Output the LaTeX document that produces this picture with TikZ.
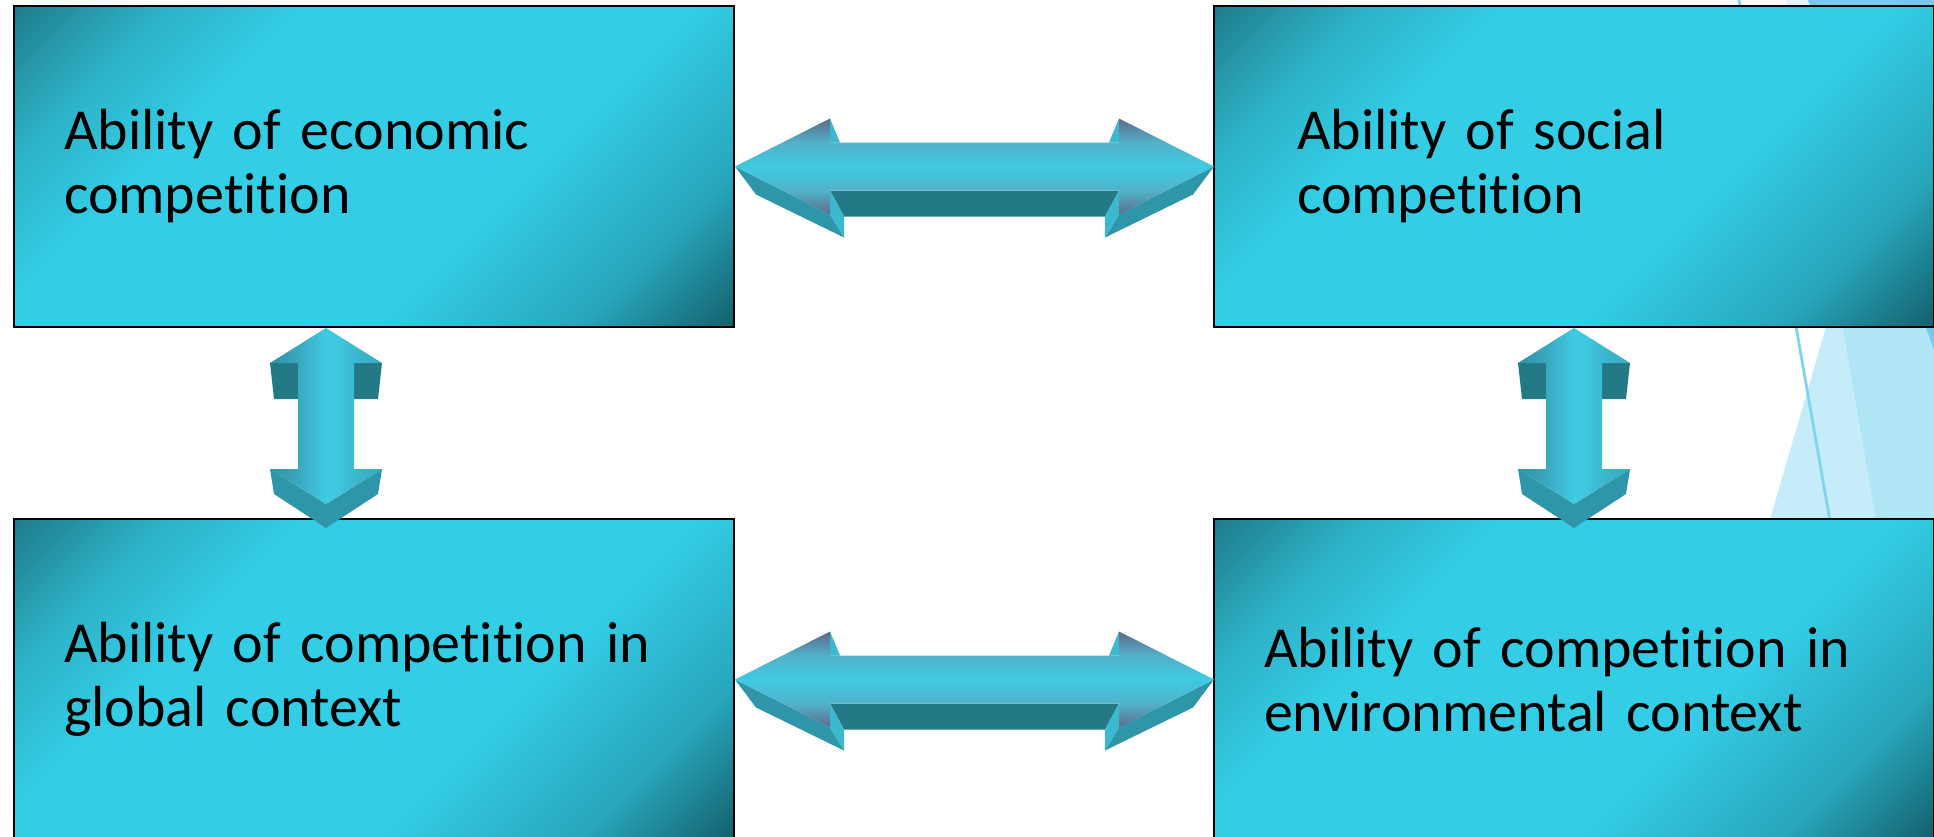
\documentclass[tikz,border=0pt]{standalone}
\usepackage{fontspec}
\setmainfont[Ligatures=NoCommon]{Carlito}
\usetikzlibrary{calc}

\definecolor{boxdarkA}{HTML}{1F7D8D}
\definecolor{boxmidA}{HTML}{2DB3C8}
\definecolor{boxbright}{HTML}{33CDE6}
\definecolor{boxmidB}{HTML}{28A6BB}
\definecolor{boxdarkB}{HTML}{14606D}
\definecolor{arrowgray}{HTML}{5C6A88}
\definecolor{arrowmid}{HTML}{52B2CA}
\definecolor{arrowbright}{HTML}{40C9E2}
\definecolor{arrowleft}{HTML}{3190A6}
\definecolor{arrowright}{HTML}{3AA8BF}
\definecolor{arrowdark}{HTML}{237A86}
\definecolor{arrowside}{HTML}{2F96A9}
\definecolor{arrowedge}{HTML}{3BB9CF}
\definecolor{facetA}{HTML}{C5ECF8}
\definecolor{facetB}{HTML}{DFF4FB}
\definecolor{facetAB}{HTML}{B0E5F5}
\definecolor{facetC}{HTML}{74CCEC}
\definecolor{facetline}{HTML}{7FD5F0}

\pgfdeclareverticalshading{boxfill}{100bp}{color(0bp)=(boxdarkB); color(14.6bp)=(boxdarkB); color(25bp)=(boxmidB); color(39bp)=(boxbright); color(65.5bp)=(boxbright); color(74.8bp)=(boxmidA); color(85.4bp)=(boxdarkA); color(100bp)=(boxdarkA)}
\pgfdeclareverticalshading{hface}{100bp}{color(0bp)=(arrowgray); color(25bp)=(arrowgray); color(37.5bp)=(arrowmid); color(50bp)=(arrowbright); color(62.5bp)=(arrowmid); color(75bp)=(arrowgray); color(100bp)=(arrowgray)}
\pgfdeclarehorizontalshading{vface}{100bp}{color(0bp)=(arrowleft); color(25bp)=(arrowleft); color(37.5bp)=(arrowright); color(50bp)=(arrowbright); color(54bp)=(arrowbright); color(62.5bp)=(arrowedge); color(75bp)=(arrowright); color(100bp)=(arrowright)}

\tikzset{
    ability/.style={draw=black, line width=1pt, shading=boxfill, shading angle=45,
        minimum width=360pt, minimum height=160.5pt, inner xsep=25pt, text width=310pt,
        align=left, font=\fontsize{29}{32}\selectfont},
    hdouble/.pic={
        \fill[arrowdark] (95,24) -- (384,24) -- (370,50) -- (109,50) -- cycle;
        \fill[arrowside] (0,0) -- (95,48) -- (109,71) -- (21,28) -- cycle;
        \fill[arrowside] (479,0) -- (384,48) -- (370,71) -- (458,28) -- cycle;
        \fill[arrowedge] (95,24) -- (95,48) -- (109,71) -- (109,50) -- cycle;
        \fill[arrowedge] (384,24) -- (384,48) -- (370,71) -- (370,50) -- cycle;
        \fill[arrowedge] (95,-48) -- (105,-24) -- (95,-24) -- cycle;
        \fill[arrowedge] (384,-48) -- (374,-24) -- (384,-24) -- cycle;
        \shade[shading=hface] (0,0) -- (95,-48) -- (95,-24) -- (384,-24) -- (384,-48) -- (479,0)
            -- (384,48) -- (384,24) -- (95,24) -- (95,48) -- cycle;
    },
    vdouble/.pic={
        \fill[arrowdark] (-56,35) -- (-28,35) -- (-28,71) -- (-52,71) -- cycle;
        \fill[arrowdark] (28,35) -- (56,35) -- (52,71) -- (28,71) -- cycle;
        \fill[arrowside] (-56,141) -- (0,176) -- (56,141) -- (52,166) -- (0,200) -- (-52,166) -- cycle;
        \shade[shading=vface] (0,0) -- (56,35) -- (28,35) -- (28,141) -- (56,141) -- (0,176)
            -- (-56,141) -- (-28,141) -- (-28,35) -- (-56,35) -- cycle;
    }
}

\begin{document}
\begin{tikzpicture}[x=0.5pt,y=-0.5pt]
    \useasboundingbox (0,0) rectangle (1934,836);
    \clip (0,0) rectangle (1934,836);

    % Facets %
    \fill[facetB] (1786,0) -- (1934,0) -- (1934,836) -- (1931,836) -- cycle;
    \fill[facetA] (1921,0) -- (1934,0) -- (1934,836) -- (1678,836) -- cycle;
    \begin{scope}
        \clip (1786,0) -- (1934,0) -- (1934,836) -- (1931,836) -- cycle;
        \fill[facetAB] (1921,0) -- (1934,0) -- (1934,836) -- (1678,836) -- cycle;
    \end{scope}
    \fill[facetC] (1808,0) -- (1934,0) -- (1934,350) -- cycle;
    \draw[facetline, line width=1.4pt] (1739,0) -- (1885,836);

    % Boxes %
    \node[ability] (econ) at (374,166.5) {Ability of economic\\competition};
    \node[ability, inner xsep=41.5pt, text width=277pt] (social) at (1574,166.5) {Ability of social\\competition};
    \node[ability] (global) at (374,679.5) {Ability of competition in\\global context};
    \node[ability] (environ) at (1574,679.5) {Ability of competition in\\environmental context};

    % Arrows %
    \pic at (econ.east) {hdouble};
    \pic at (global.east) {hdouble};
    \pic at ($(econ.south)+(-48,0)$) {vdouble};
    \pic at (social.south) {vdouble};
\end{tikzpicture}
\end{document}
